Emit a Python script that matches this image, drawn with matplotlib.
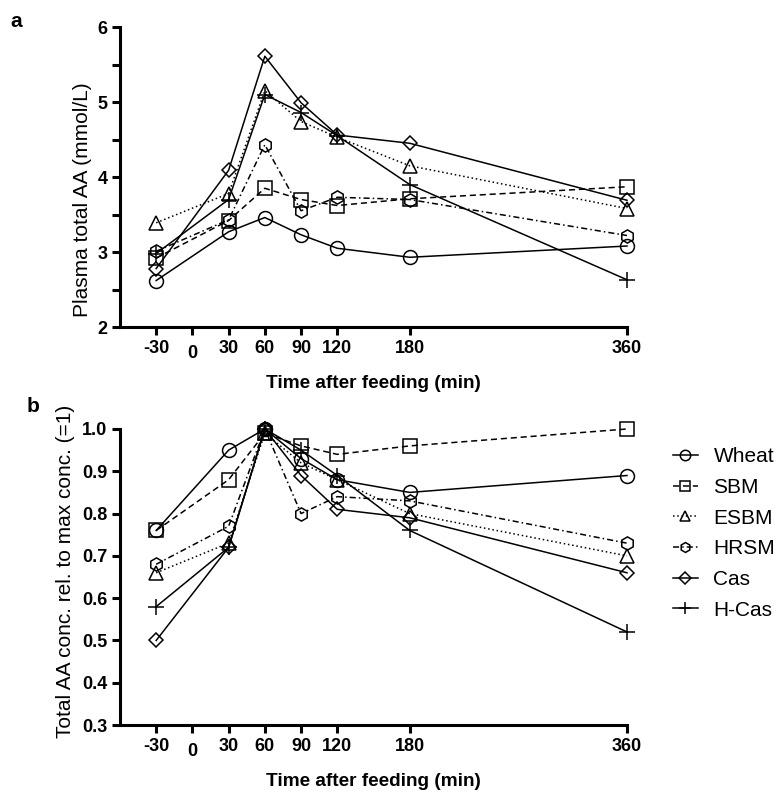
import matplotlib
matplotlib.use("Agg")
import matplotlib.pyplot as plt
from matplotlib.transforms import ScaledTranslation

plt.rcParams['font.family'] = ['Liberation Sans', 'DejaVu Sans']

times = [-30, 30, 60, 90, 120, 180, 360]
xticks = [-30, 0, 30, 60, 90, 120, 180, 360]
labels = ["Wheat", "SBM", "ESBM", "HRSM", "Cas", "H-Cas"]

# Panel a: plasma total AA (mmol/L)
a_wheat = [2.62, 3.27, 3.46, 3.23, 3.05, 2.93, 3.08]
a_sbm   = [2.92, 3.42, 3.85, 3.70, 3.62, 3.71, 3.87]
a_esbm  = [3.39, 3.78, 5.15, 4.74, 4.53, 4.15, 3.58]
a_hrsm  = [3.01, 3.43, 4.43, 3.55, 3.73, 3.70, 3.22]
a_cas   = [2.78, 4.09, 5.61, 4.99, 4.56, 4.45, 3.69]
a_hcas  = [2.98, 3.70, 5.10, 4.86, 4.55, 3.90, 2.63]

# Panel b: relative to max conc.
b_wheat = [0.76, 0.95, 1.00, 0.93, 0.88, 0.85, 0.89]
b_sbm   = [0.76, 0.88, 0.99, 0.96, 0.94, 0.96, 1.00]
b_esbm  = [0.66, 0.73, 0.99, 0.92, 0.88, 0.80, 0.70]
b_hrsm  = [0.68, 0.77, 1.00, 0.80, 0.84, 0.83, 0.73]
b_cas   = [0.50, 0.72, 1.00, 0.89, 0.81, 0.79, 0.66]
b_hcas  = [0.58, 0.72, 1.00, 0.95, 0.89, 0.76, 0.52]

markers = ['o', 's', '^', 'h', 'D', '+']
msizes = [10, 9.5, 10.5, 9.5, 7.5, 12]
styles = ['-', (0, (4, 2.5)), (0, (1, 1.8)), (0, (4, 2, 1, 2)), '-', '-']

fig = plt.figure(figsize=(7.76, 7.99), dpi=100)
axa = fig.add_axes([0.1546, 0.5907, 0.808 - 0.1546, 0.3755])
axb = fig.add_axes([0.1546, 0.0926, 0.808 - 0.1546, 0.3705])

TICK_FS = 13

def draw(ax, series, ylim, yticks, ylabels, ylabel, ylab_x, ylab_y):
    handles = []
    for s, lab, m, ms, ls in zip(series, labels, markers, msizes, styles):
        h, = ax.plot(times, s, linestyle=ls, color='black', linewidth=1.1,
                     marker=m, markersize=ms, markerfacecolor='none',
                     markeredgecolor='black', markeredgewidth=1.1, label=lab,
                     clip_on=False)
        handles.append(h)
    ax.set_xlim(-60, 360)
    ax.set_ylim(*ylim)
    ax.set_xticks(xticks)
    ax.set_xticklabels([str(t) for t in xticks], fontweight='bold', fontsize=TICK_FS)
    ax.set_yticks(yticks)
    ax.set_yticklabels(ylabels, fontweight='bold', fontsize=TICK_FS)
    for sp in ['top', 'right']:
        ax.spines[sp].set_visible(False)
    for sp in ['left', 'bottom']:
        ax.spines[sp].set_linewidth(2.2)
    ax.tick_params(axis='both', direction='out', length=6, width=2.2, pad=3)
    ax.set_xlabel("Time after feeding (min)", fontweight='bold', fontsize=13.7, labelpad=9)
    ax.set_ylabel(ylabel, fontsize=15)
    ax.yaxis.set_label_coords(ylab_x, ylab_y)
    # shift the "0" label downward as in the reference
    for tl in ax.get_xticklabels():
        if tl.get_text() == '0':
            tl.set_transform(tl.get_transform() + ScaledTranslation(0, -4/72, fig.dpi_scale_trans))
    return handles

ya = [2, 2.5, 3, 3.5, 4, 4.5, 5, 5.5, 6]
yal = [str(int(v)) if v == int(v) else '' for v in ya]
draw(axa, [a_wheat, a_sbm, a_esbm, a_hrsm, a_cas, a_hcas], (2, 6), ya, yal,
     "Plasma total AA (mmol/L)", -0.056, 0.425)

yb = [0.3, 0.4, 0.5, 0.6, 0.7, 0.8, 0.9, 1.0]
ybl = [f"{v:.1f}" for v in yb]
handles = draw(axb, [b_wheat, b_sbm, b_esbm, b_hrsm, b_cas, b_hcas], (0.3, 1.0), yb, ybl,
               "Total AA conc. rel. to max conc. (=1)", -0.088, 0.52)

fig.legend(handles=handles, labels=labels, loc='upper left',
           bbox_to_anchor=(0.859, 0.448), frameon=False, fontsize=15,
           handlelength=1.2, handletextpad=0.75, labelspacing=0.56,
           markerscale=0.75, borderaxespad=0.0, borderpad=0.3)

fig.text(0.014, 0.966, "a", fontweight='bold', fontsize=15)
fig.text(0.034, 0.484, "b", fontweight='bold', fontsize=15)

fig.savefig("out.png", dpi=100)
